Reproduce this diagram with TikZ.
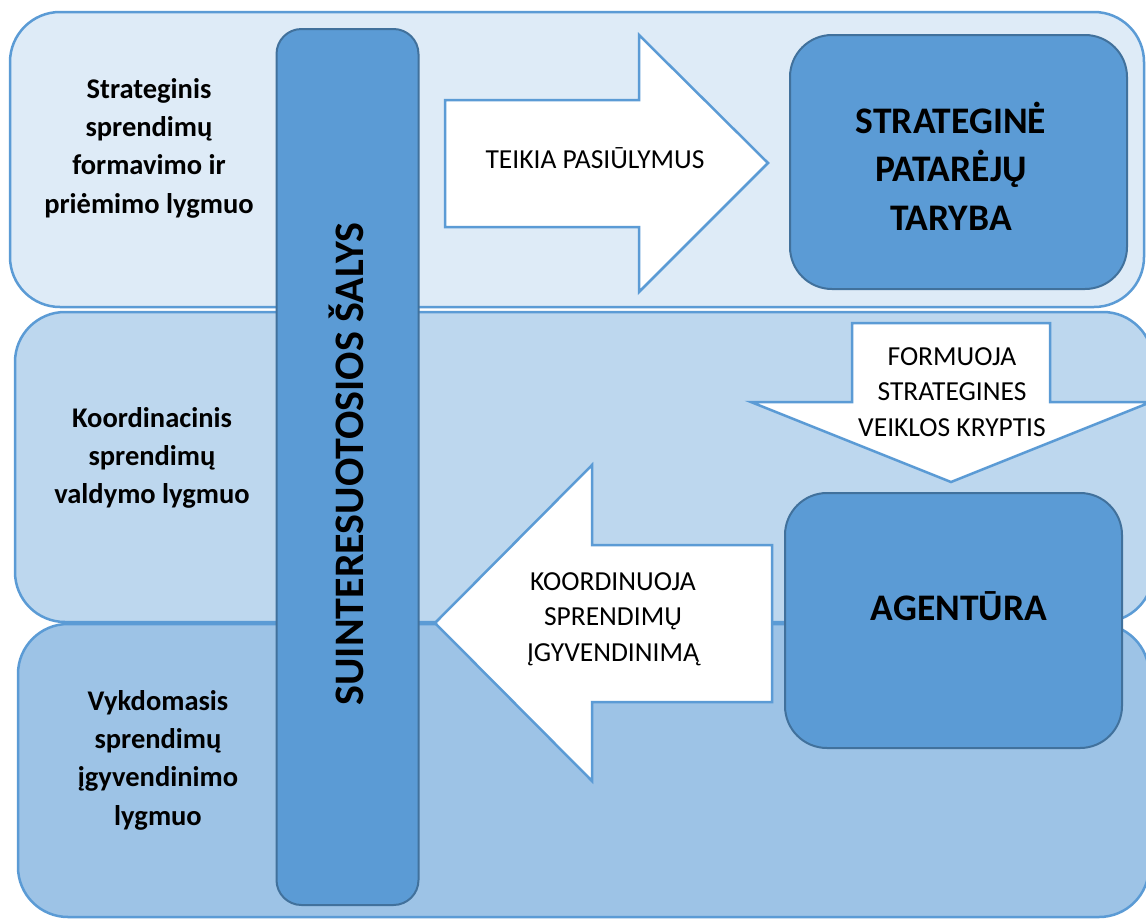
\documentclass[tikz,border=0pt]{standalone}
\usepackage{fontspec}
\setmainfont{Carlito}
\definecolor{bandA}{HTML}{DEEBF7}
\definecolor{bandB}{HTML}{BDD7EE}
\definecolor{bandC}{HTML}{9DC3E6}
\definecolor{accent}{HTML}{5B9BD5}
\definecolor{accentdark}{HTML}{41719C}
\begin{document}
\begin{tikzpicture}[x=1pt,y=-1pt,
  band/.style={draw=accent, line width=2.5pt, rounded corners=50pt},
  darkbox/.style={fill=accent, draw=accentdark, line width=2pt},
  blockarrow/.style={fill=white, draw=accent, line width=2.5pt, line join=miter},
  lvl/.style={font=\bfseries\fontsize{28.5}{38.3}\selectfont, align=center, inner sep=0pt},
  arrlabel/.style={font=\fontsize{27.5}{35.5}\selectfont, align=center, inner sep=0pt},
  title/.style={font=\bfseries\fontsize{37.5}{48.5}\selectfont, align=center, inner sep=0pt}]
\useasboundingbox (0,0) rectangle (1146,919);
\fill[white] (0,0) rectangle (1146,919);
% bands
\draw[band, fill=bandA] (10,12) rectangle (1144,307);
\draw[band, fill=bandB] (15,312) rectangle (1153,622);
\draw[band, fill=bandC] (18,624) rectangle (1149,917);
% stakeholder bar
\node[darkbox, rounded corners=25pt, minimum width=142pt, minimum height=876pt, inner sep=0pt] (bar) at (347.5,467) {};
\node[font=\bfseries\fontsize{42}{48}\selectfont, inner sep=0pt, rotate=90] (stake) at (346,464) {SUINTERESUOTOSIOS ŠALYS};
% boxes
\node[darkbox, rounded corners=42pt, minimum width=337pt, minimum height=254pt, inner sep=0pt] (council) at (958.5,162) {};
\node[darkbox, rounded corners=42pt, minimum width=337pt, minimum height=255pt, inner sep=0pt] (agency) at (953.5,620.5) {};
\node[title] (councilT) at (951,166) {STRATEGINĖ\\PATARĖJŲ\\TARYBA};
\node[title, anchor=base] (agencyT) at (959,620) {AGENTŪRA};
% block arrows
\draw[blockarrow] (445,100) -- (639,100) -- (639,35) -- (768,163) -- (639,292) -- (639,227) -- (445,227) -- cycle;
\draw[blockarrow] (852,323) -- (1050,323) -- (1050,402) -- (1151,402) -- (951,482) -- (751,402) -- (852,402) -- cycle;
\draw[blockarrow] (772,545) -- (772,702) -- (592,702) -- (592,781) -- (435,623) -- (592,465) -- (592,545) -- cycle;
% arrow labels
\node[arrlabel, anchor=base] (t1) at (595,168) {TEIKIA PASIŪLYMUS};
\node[arrlabel] (t2) at (952,392) {FORMUOJA\\STRATEGINES\\VEIKLOS KRYPTIS};
\node[arrlabel] (t3) at (613,619) {KOORDINUOJA\\SPRENDIMŲ\\ĮGYVENDINIMĄ};
% level labels
\node[lvl] (l1) at (149,148) {Strateginis\\sprendimų\\formavimo ir\\priėmimo lygmuo};
\node[lvl] (l2) at (152,458) {Koordinacinis\\sprendimų\\valdymo lygmuo};
\node[lvl] (l3) at (158,760) {Vykdomasis\\sprendimų\\įgyvendinimo\\lygmuo};
\end{tikzpicture}
\end{document}
